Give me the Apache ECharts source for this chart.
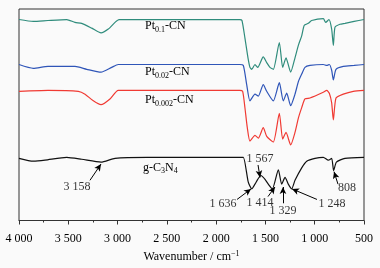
<!DOCTYPE html>
<html>
<head>
<meta charset="utf-8">
<script src="https://cdn.jsdelivr.net/npm/echarts@6/dist/echarts.min.js"></script>
<style>
  html, body { margin: 0; padding: 0; background: #fafafa; }
  #chart { width: 380px; height: 268px; }
</style>
</head>
<body>
<div id="chart"></div>
<script>
  // wavenumber (cm-1), transmittance (a.u., stacked offsets as in the figure)
  const pt01 = [
      [4000, 210], [3855, 208], [3706, 209], [3516, 210], [3432, 207], [3364, 206], [3262, 201],
      [3168, 196], [3094, 200], [3026, 207], [2985, 210], [2700, 210], [2200, 210], [1760, 210],
      [1738, 209], [1707, 190], [1677, 170], [1657, 160], [1639, 158], [1606, 163], [1578, 160],
      [1522, 171], [1487, 165], [1454, 160], [1420, 158], [1359, 186], [1325, 160], [1291, 170],
      [1274, 165], [1244, 155], [1200, 170], [1166, 183], [1132, 193], [1106, 204], [1065, 206],
      [1031, 209], [913, 211], [889, 207], [855, 210], [828, 200], [811, 183], [794, 202],
      [744, 205], [693, 206], [600, 208], [500, 210]
  ]
  const pt002 = [
      [4000, 163], [3855, 159], [3706, 161], [3432, 161], [3313, 158], [3168, 155], [3060, 160],
      [2993, 163], [2700, 163], [2200, 163], [1760, 163], [1724, 162], [1690, 142], [1657, 125],
      [1606, 132], [1572, 130], [1522, 142], [1487, 135], [1420, 125], [1359, 144], [1319, 125],
      [1284, 133], [1244, 120], [1200, 132], [1166, 145], [1132, 153], [1099, 160], [1048, 162],
      [913, 163], [878, 162], [852, 163], [828, 157], [811, 147], [784, 158], [710, 161],
      [600, 162], [500, 163]
  ]
  const pt0002 = [
      [4000, 135], [3706, 136], [3398, 135], [3330, 132], [3246, 125], [3168, 121], [3077, 127],
      [2993, 136], [2700, 136], [2200, 136], [1760, 136], [1731, 135], [1707, 117], [1684, 97],
      [1657, 83], [1606, 89], [1572, 86], [1522, 97], [1487, 88], [1420, 82], [1359, 112],
      [1325, 85], [1291, 92], [1244, 79], [1200, 92], [1166, 107], [1132, 118], [1099, 127],
      [1048, 128], [913, 134], [878, 136], [852, 133], [828, 123], [811, 105], [784, 128],
      [710, 132], [609, 135], [500, 136]
  ]
  const gc3n4 = [
      [4000, 65], [3855, 62], [3736, 63], [3516, 66], [3364, 64], [3168, 61], [3026, 65],
      [2700, 66], [2200, 66], [1760, 66], [1724, 66], [1674, 40], [1639, 33], [1606, 38],
      [1578, 43], [1545, 47], [1504, 43], [1471, 38], [1430, 33], [1369, 53], [1335, 38],
      [1301, 45], [1268, 38], [1234, 33], [1200, 42], [1132, 55], [1081, 62], [997, 65],
      [913, 66], [862, 63], [828, 65], [808, 52], [780, 61], [693, 65], [500, 66]
  ]
  const xTicks = [4000, 3500, 3000, 2500, 2000, 1500, 1000, 500]
  const xTickLabels = ['4 000', '3 500', '3 000', '2 500', '2 000', '1 500', '1 000', '500']

  // peak annotations: label text, label position, arrow tail, arrow head
  const peakLabels = ['3 158', '1 636', '1 567', '1 414', '1 329', '1 248', '808']
  const peakLabelAt = [[3412, 35], [1930, 17], [1555, 64], [1555, 18], [1322, 10], [825, 17], [672, 34]]
  const arrowFrom = [[3280, 42], [1788, 22], [1575, 58], [1474, 25], [1322, 18], [977, 22], [764, 38]]
  const arrowTo = [[3168, 59], [1646, 33], [1555, 45], [1403, 35], [1322, 35], [1230, 33], [804, 51]]

  const seriesNames = ['Pt{s|0.1}-CN', 'Pt{s|0.02}-CN', 'Pt{s|0.002}-CN', 'g-C{s|3}N{s|4}']
  const seriesLabelAt = [[2722, 203], [2722, 155], [2722, 126], [2742, 55]]
  const seriesColors = ['#2f8c7c', '#2f55b8', '#f03a33', '#111111']

  const font = 'Liberation Serif, Times New Roman, serif'
  const chart = echarts.init(document.getElementById('chart'))

  const sub = { fontFamily: font, fontSize: 8, color: '#000', padding: [7, 0, 0, 0] }

  function nameMark(i) {
      return {
          symbolSize: 0,
          silent: true,
          label: {
              show: true,
              position: 'right',
              distance: 0,
              formatter: seriesNames[i],
              fontFamily: font,
              fontSize: 12,
              color: '#000',
              rich: { s: sub }
          },
          data: [{ coord: seriesLabelAt[i] }]
      }
  }

  const series = [pt01, pt002, pt0002, gc3n4].map((d, i) => ({
      type: 'line',
      data: d,
      showSymbol: false,
      smooth: 0.2,
      lineStyle: { color: seriesColors[i], width: 1.2 },
      z: 3,
      markPoint: nameMark(i)
  }))

  // arrows and peak numbers on g-C3N4
  series[3].markLine = {
      silent: true,
      symbol: ['none', 'arrow'],
      symbolSize: [5, 7],
      lineStyle: { color: '#000', width: 1, type: 'solid' },
      label: { show: false },
      data: arrowFrom.map((p, i) => [{ coord: p }, { coord: arrowTo[i] }])
  }
  series.push({
      type: 'scatter',
      symbolSize: 0,
      silent: true,
      data: peakLabelAt.map((p, i) => ({ value: p, name: peakLabels[i] })),
      label: {
          show: true,
          position: 'inside',
          formatter: p => p.name,
          fontFamily: font,
          fontSize: 12,
          color: '#000'
      }
  })

  chart.setOption({
      backgroundColor: '#fafafa',
      animation: false,
      grid: {
          left: 19,
          right: 16,
          top: 9,
          bottom: 38,
          show: true,
          borderColor: '#333',
          borderWidth: 1,
          backgroundColor: 'transparent'
      },
      xAxis: {
          type: 'value',
          inverse: true,
          min: 500,
          max: 4000,
          interval: 500,
          axisLine: { lineStyle: { color: '#333', width: 1 } },
          axisTick: { show: true, inside: false, length: 4, lineStyle: { color: '#333' } },
          minorTick: { show: true, splitNumber: 2, length: 2, lineStyle: { color: '#333' } },
          splitLine: { show: false },
          axisLabel: {
              margin: 12,
              fontFamily: font,
              fontSize: 12,
              color: '#000',
              formatter: v => xTickLabels[xTicks.indexOf(v)]
          },
          name: 'Wavenumber / cm{sup|−1}',
          nameLocation: 'middle',
          nameGap: 29,
          nameTextStyle: {
              fontFamily: font,
              fontSize: 12,
              color: '#000',
              rich: { sup: { fontFamily: font, fontSize: 8, color: '#000', padding: [0, 0, 7, 0] } }
          }
      },
      yAxis: {
          type: 'value',
          min: 0,
          max: 221,
          show: false
      },
      series: series
  })
</script>
</body>
</html>
